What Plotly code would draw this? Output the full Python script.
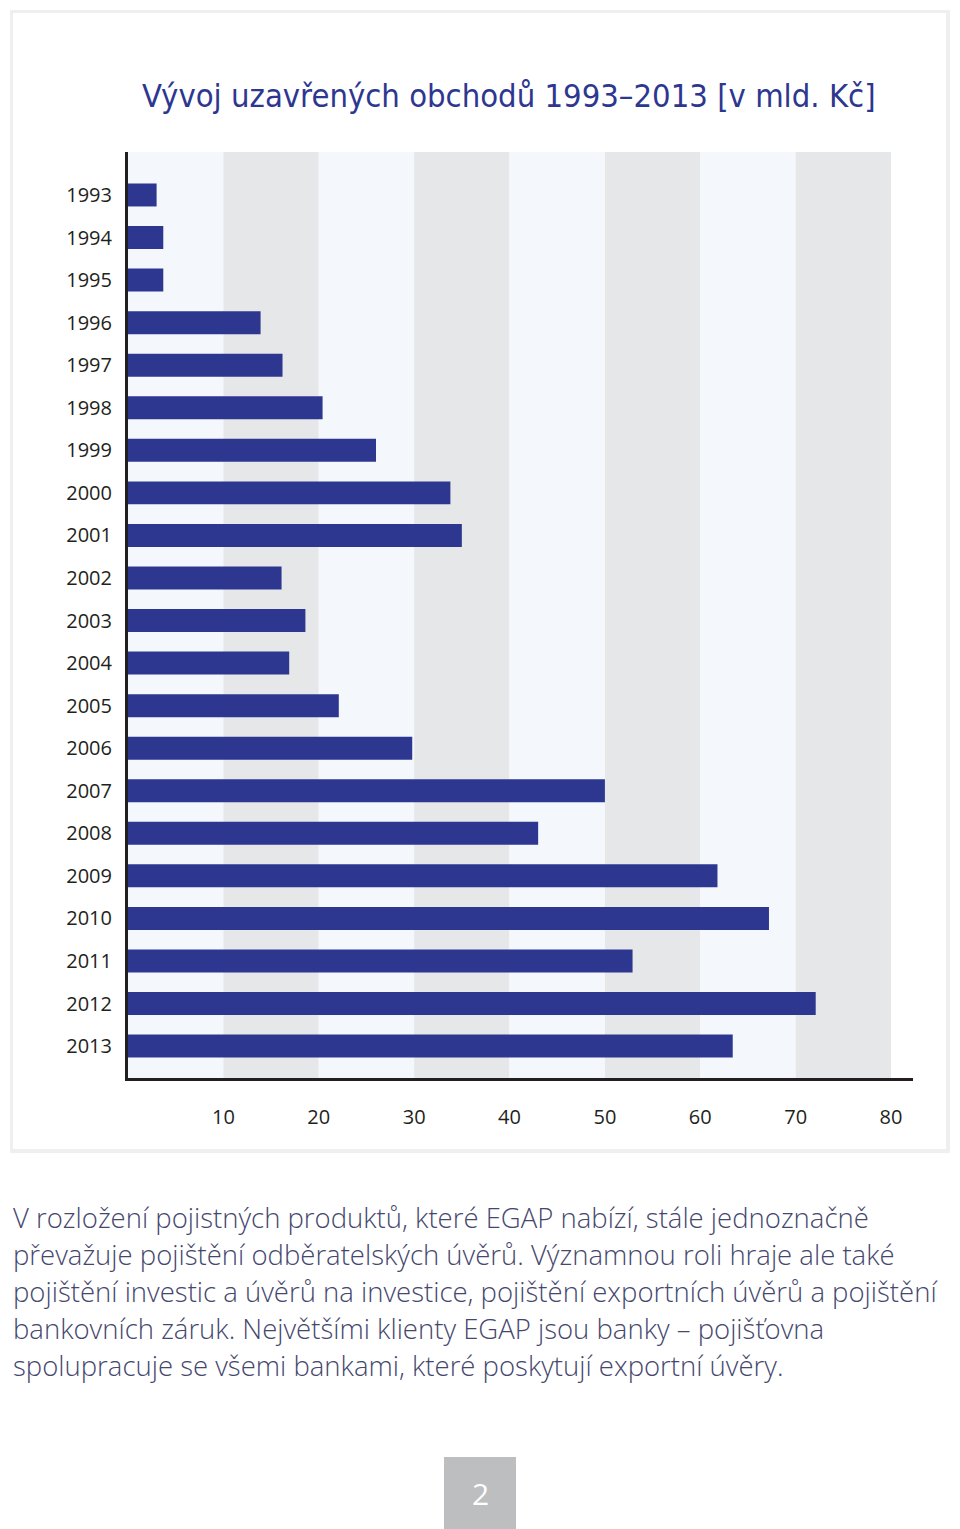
import plotly.graph_objects as go

years = [str(y) for y in range(1993, 2014)]
values = [3.0, 3.7, 3.7, 13.9, 16.2, 20.4, 26.0, 33.8, 35.0, 16.1, 18.6, 16.9,
          22.1, 29.8, 50.0, 43.0, 61.8, 67.2, 52.9, 72.1, 63.4]
x_ticks = [10, 20, 30, 40, 50, 60, 70, 80]
title_text = "Vývoj uzavřených obchodů 1993–2013 [v mld. Kč]"
paragraph = [
    "V rozložení pojistných produktů, které EGAP nabízí, stále jednoznačně",
    "převažuje pojištění odběratelských úvěrů. Významnou roli hraje ale také",
    "pojištění investic a úvěrů na investice, pojištění exportních úvěrů a pojištění",
    "bankovních záruk. Největšími klienty EGAP jsou banky – pojišťovna",
    "spolupracuje se všemi bankami, které poskytují exportní úvěry.",
]
page_number = "2"

W, H = 960, 1529
def px(x):
    return x / W
def py(y):
    return 1 - y / H

BAR = "#2e3790"
LIGHT = "#f4f8fc"
GREY = "#e6e7e9"

fig = go.Figure()
fig.add_trace(go.Bar(
    x=values, y=years, orientation="h",
    marker=dict(color=BAR, line=dict(width=0)),
    width=0.54, hoverinfo="x+y",
))

shapes = []
# card with subtle shadow
shapes.append(dict(type="rect", xref="paper", yref="paper",
                   x0=px(10), x1=px(950), y0=py(1153), y1=py(10),
                   fillcolor="#efefef", line=dict(width=0), layer="below"))
shapes.append(dict(type="rect", xref="paper", yref="paper",
                   x0=px(13), x1=px(946), y0=py(1149), y1=py(13),
                   fillcolor="#ffffff", line=dict(width=0), layer="below"))
# stripes
for i in range(8):
    shapes.append(dict(type="rect", xref="x", yref="paper",
                       x0=i * 10, x1=(i + 1) * 10, y0=py(1078), y1=py(152),
                       fillcolor=LIGHT if i % 2 == 0 else GREY,
                       line=dict(width=0), layer="below"))
# page number box
shapes.append(dict(type="rect", xref="paper", yref="paper",
                   x0=px(444), x1=px(516), y0=py(1529), y1=py(1457),
                   fillcolor="#bdbec0", line=dict(width=0)))

annotations = []
annotations.append(dict(text=title_text, xref="paper", yref="paper",
                        x=px(509), y=py(96), xanchor="center", yanchor="middle",
                        showarrow=False,
                        font=dict(family="Liberation Sans Narrow, DejaVu Sans Condensed, Roboto",
                                  size=32.5, color="#2e3790")))
for i, line in enumerate(paragraph):
    annotations.append(dict(text=line, xref="paper", yref="paper",
                            x=px(11), y=py(1217 + 37 * i), xanchor="left", yanchor="middle",
                            showarrow=False,
                            font=dict(family="Open Sans", size=27.5, weight=300, color="#45476e")))
annotations.append(dict(text=page_number, xref="paper", yref="paper",
                        x=px(480), y=py(1493), xanchor="center", yanchor="middle",
                        showarrow=False,
                        font=dict(family="Open Sans", size=30, color="#ffffff")))

fig.update_layout(
    width=W, height=H,
    margin=dict(l=0, r=0, t=0, b=0),
    paper_bgcolor="#ffffff", plot_bgcolor="rgba(0,0,0,0)",
    showlegend=False,
    shapes=shapes, annotations=annotations,
    xaxis=dict(domain=[px(128), px(913)], range=[0, 82.3],
               tickvals=x_ticks, ticktext=[str(t) for t in x_ticks],
               showgrid=False, zeroline=False,
               showline=True, linecolor="#231f20", linewidth=3,
               ticks="outside", ticklen=0, ticklabelstandoff=19,
               tickfont=dict(family="Open Sans", size=20, color="#231f20")),
    yaxis=dict(domain=[py(1078), py(152)], type="category",
               categoryorder="array", categoryarray=years,
               range=[20.75, -1.01],
               showgrid=False, zeroline=False,
               showline=True, linecolor="#231f20", linewidth=3,
               ticks="outside", ticklen=0, ticklabelstandoff=9,
               tickfont=dict(family="Open Sans", size=20, color="#231f20")),
)

fig.write_html("out.html", config={"displayModeBar": False},
               post_script="document.body.style.margin='0';")
